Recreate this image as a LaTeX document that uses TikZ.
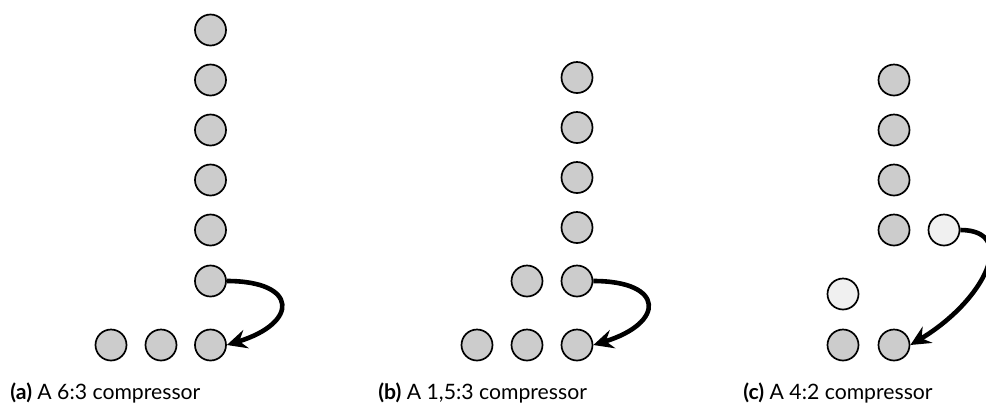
\documentclass[tikz,border=0pt]{standalone}
\usepackage{fontspec}
\setmainfont{Lato}
\usetikzlibrary{arrows.meta}
\tikzset{
  bit/.style={
    circle,
    draw=black,
    line width=0.85pt,
    fill=gray!40,
    minimum size=15.5pt,
    inner sep=0pt
  },
  newbit/.style={bit, fill=gray!12},
  carry/.style={line width=2.3pt, -{Stealth[length=10pt,width=9.5pt,inset=3.5pt]}},
  lbl/.style={font=\fontsize{10.6}{12}\selectfont, inner sep=0pt, anchor=base west},
}
\begin{document}
\begin{tikzpicture}[x=0.5pt,y=-0.5pt]
  \useasboundingbox (0,0) rectangle (986,403);
  % (a) 6:3
  \foreach \y [count=\i] in {30,80,130,180,230,281}
    \node[bit] (A\i) at (210.5,\y) {};
  \foreach \x [count=\i] in {111,161,210.5}
    \node[bit] (Aout\i) at (\x,345) {};
  \draw[carry] (A6.east) .. controls +(72,0) and +(72,-22) .. (Aout3.east);
  \node[lbl] (Acap) at (10,399) {\textbf{(a)} A 6:3 compressor};
  % (b) 1,5:3
  \foreach \y [count=\i] in {77.5,127.5,177.5,227.5,281}
    \node[bit] (B\i) at (577,\y) {};
  \node[bit] (Bmid) at (527,281) {};
  \foreach \x [count=\i] in {477,527,577}
    \node[bit] (Bout\i) at (\x,345) {};
  \draw[carry] (B5.east) .. controls +(72,0) and +(72,-22) .. (Bout3.east);
  \node[lbl] (Bcap) at (378,399) {\textbf{(b)} A 1,5:3 compressor};
  % (c) 4:2
  \foreach \y [count=\i] in {80,130,180,230}
    \node[bit] (C\i) at (894,\y) {};
  \node[newbit] (Cnew1) at (944,230) {};
  \node[newbit] (Cnew2) at (843,294) {};
  \node[bit] (Cout1) at (843,345) {};
  \node[bit] (Cout2) at (894,345) {};
  \draw[carry] (Cnew1.east) .. controls +(58,0) and +(75,-45) .. (Cout2.east);
  \node[lbl] (Ccap) at (743,399) {\textbf{(c)} A 4:2 compressor};
\end{tikzpicture}
\end{document}
